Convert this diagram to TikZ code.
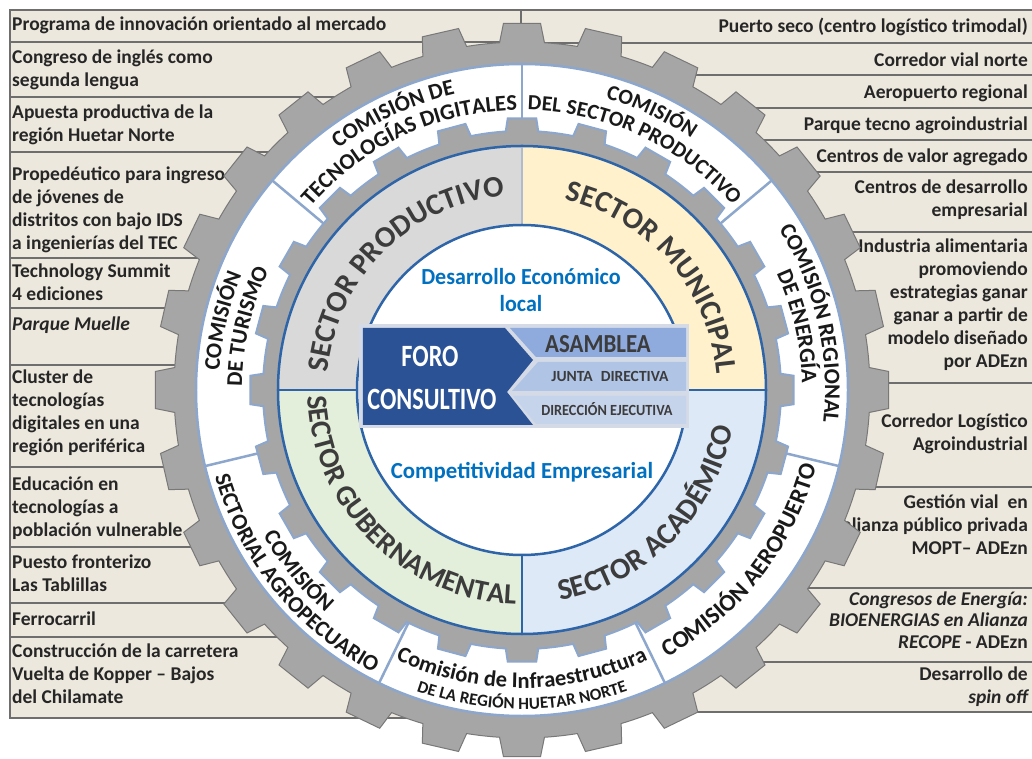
\documentclass[tikz,border=0pt]{standalone}
\usepackage{fontspec}
\usepackage{graphicx}
\setmainfont{Carlito}
\usetikzlibrary{decorations.text}
\definecolor{boxfill}{RGB}{237,232,221}
\definecolor{boxline}{RGB}{110,110,110}
\definecolor{txt}{RGB}{38,38,38}
\definecolor{commtxt}{RGB}{25,25,25}
\definecolor{gearfill}{RGB}{166,166,166}
\definecolor{gearline}{RGB}{120,120,120}
\definecolor{ringline}{RGB}{140,166,204}
\definecolor{darkblue}{RGB}{46,100,168}
\definecolor{lightdiv}{RGB}{176,188,204}
\definecolor{secprod}{RGB}{217,217,217}
\definecolor{secmun}{RGB}{255,241,204}
\definecolor{secgub}{RGB}{227,239,218}
\definecolor{secacad}{RGB}{221,233,247}
\definecolor{bandbg}{RGB}{212,219,230}
\definecolor{foroblue}{RGB}{44,82,150}
\definecolor{asam}{RGB}{143,170,220}
\definecolor{junta}{RGB}{176,196,230}
\definecolor{direc}{RGB}{197,211,235}
\definecolor{centerblue}{RGB}{0,112,192}
\definecolor{sectxt}{RGB}{60,60,60}
\newcommand\bxfont{\bfseries\fontsize{19.5}{23}\selectfont}
\newcommand\cmfont{\bfseries\fontsize{22.5}{22.5}\selectfont\color{commtxt}}
\newcommand\cmfontl{\bfseries\fontsize{24}{24}\selectfont\color{commtxt}}
\newcommand\cmfonts{\bfseries\fontsize{21.5}{21.5}\selectfont\color{commtxt}}
\newcommand\infrafont{\bfseries\fontsize{22.5}{22.5}\selectfont\color{commtxt}}
\newcommand\infrasmall{\bfseries\fontsize{17}{17}\selectfont\color{commtxt}}
\newcommand\secfont{\bfseries\fontsize{30}{30}\selectfont\color{sectxt}}
\newcommand\secfontb{\bfseries\fontsize{29}{29}\selectfont\color{sectxt}}
\newcommand\cwtext[4]{\path[decorate,decoration={text along path,text align=center,text={|#3|#4}}] ({#1+70}:#2pt) arc[start angle={#1+70},end angle={#1-70},radius=#2pt];}
\newcommand\ccwtext[4]{\path[decorate,decoration={text along path,text align=center,text={|#3|#4}}] ({#1-70}:#2pt) arc[start angle={#1-70},end angle={#1+70},radius=#2pt];}
\newcommand\fs{\rule{0pt}{17pt}}
\tikzset{
  boxst/.style={fill=boxfill,draw=boxline,line width=2.5pt},
  ltxt/.style={anchor=north west,align=left,inner sep=0pt,font=\bxfont,text=txt},
  rtxt/.style={anchor=north east,align=right,inner sep=0pt,font=\bxfont,text=txt},
  gearst/.style={fill=gearfill,draw=gearline,line width=1pt},
  innergear/.style={fill=gearfill,draw=ringline,line width=2pt},
  sepline/.style={draw=ringline,line width=2.5pt},
  secline/.style={draw=darkblue,line width=2.5pt},
  ctxt/.style={anchor=base,inner sep=0pt},
}
\begin{document}
\begin{tikzpicture}[x=1pt,y=1pt]
\useasboundingbox (-522,-369) rectangle (510,390);
% left boxes
\draw[boxst] (-512,380) rectangle (-1,348);
\draw[boxst] (-512,348) rectangle (0,293);
\draw[boxst] (-512,293) rectangle (0,238);
\draw[boxst] (-512,238) rectangle (0,132);
\draw[boxst] (-512,132) rectangle (0,82);
\draw[boxst] (-512,82) rectangle (0,25);
\draw[boxst] (-512,25) rectangle (0,-77);
\draw[boxst] (-512,-77) rectangle (0,-157);
\draw[boxst] (-512,-157) rectangle (0,-213);
\draw[boxst] (-512,-213) rectangle (0,-247);
\draw[boxst] (-512,-247) rectangle (0,-328);
% right boxes
\draw[boxst] (-1,380) rectangle (515,347);
\draw[boxst] (0,347) rectangle (515,315);
\draw[boxst] (0,315) rectangle (515,282);
\draw[boxst] (0,282) rectangle (515,250);
\draw[boxst] (0,250) rectangle (515,218);
\draw[boxst] (0,218) rectangle (515,158);
\draw[boxst] (0,158) rectangle (515,7);
\draw[boxst] (0,7) rectangle (515,-97);
\draw[boxst] (0,-97) rectangle (515,-198);
\draw[boxst] (0,-198) rectangle (515,-272);
\draw[boxst] (0,-272) rectangle (515,-322);
% left texts
\node[ltxt] (l1) at (-510,377) {\fs Programa de innovación orientado al mercado};
\node[ltxt] (l2) at (-510,344) {\fs Congreso de inglés como\\segunda lengua};
\node[ltxt] (l3) at (-510,289) {\fs Apuesta productiva de la\\región Huetar Norte};
\node[ltxt] (l4) at (-510,227) {\fs Propedéutico para ingreso\\de jóvenes de\\distritos con bajo IDS\\a ingenierías del TEC};
\node[ltxt] (l5) at (-510,130) {\fs Technology Summit\\4 ediciones};
\node[ltxt] (l6) at (-510,77) {\fs\itshape Parque Muelle};
\node[ltxt] (l7) at (-510,24) {\fs Cluster de\\tecnologías\\digitales en una\\región periférica};
\node[ltxt] (l8) at (-510,-83) {\fs Educación en\\tecnologías a\\población vulnerable};
\node[ltxt] (l9) at (-510,-161) {\fs Puesto fronterizo\\Las Tablillas};
\node[ltxt] (l10) at (-510,-218) {\fs Ferrocarril};
\node[ltxt] (l11) at (-510,-250) {\fs Construcción de la carretera\\Vuelta de Kopper -- Bajos\\del Chilamate};
% right texts
\node[rtxt] (r1) at (506,375) {\fs Puerto seco (centro logístico trimodal)};
\node[rtxt] (r2) at (506,341) {\fs Corredor vial norte};
\node[rtxt] (r3) at (506,309) {\fs Aeropuerto regional};
\node[rtxt] (r4) at (506,277) {\fs Parque tecno agroindustrial};
\node[rtxt] (r5) at (506,245) {\fs Centros de valor agregado};
\node[rtxt] (r6) at (506,214) {\fs Centros de desarrollo\\empresarial};
\node[rtxt] (r7) at (506,155) {\fs Industria alimentaria\\promoviendo\\estrategias ganar\\ganar a partir de\\modelo diseñado\\por ADEzn};
\node[rtxt] (r8) at (506,-20) {\fs Corredor Logístico\\Agroindustrial};
\node[rtxt] (r9) at (506,-101) {\fs Gestión vial\ \ en\\alianza público privada\\MOPT-- ADEzn};
\node[rtxt,font=\bfseries\fontsize{19.5}{21.5}\selectfont] (r10) at (506,-198) {\fs\itshape Congresos de Energía:\\\itshape BIOENERGIAS en Alianza\\\itshape RECOPE\upshape{} - ADEzn};
\node[rtxt] (r11) at (506,-273) {\fs Desarrollo de\\\itshape spin off};
% outer gear (28 teeth)
\filldraw[gearst] (86.3:348pt)
  \foreach \i in {0,...,27}{
    -- ({90+\i*360/28-2.9}:367pt)
    -- ({90+\i*360/28+2.9}:367pt)
    -- ({90+\i*360/28+3.7}:348pt)
    arc[start angle={90+\i*360/28+3.7},end angle={90+(\i+1)*360/28-3.7},radius=348pt]
  } -- cycle;
% white ring
\filldraw[fill=white,draw=ringline,line width=2.5pt] (0,0) circle[radius=326pt];
\foreach \a in {90,40,-13.5,-64,-116,-166.5,140}{
  \draw[sepline] (\a:255pt) -- (\a:326pt);
}
% inner gear (24 teeth)
\filldraw[innergear] (86.4:259pt)
  \foreach \i in {0,...,23}{
    -- ({90+\i*15-3.0}:272pt)
    -- ({90+\i*15+3.0}:272pt)
    -- ({90+\i*15+3.6}:259pt)
    arc[start angle={90+\i*15+3.6},end angle={90+(\i+1)*15-3.6},radius=259pt]
  } -- cycle;
% sectors
\fill[secprod] (0,0) -- (180:244pt) arc[start angle=180,end angle=90,radius=244pt] -- cycle;
\fill[secmun] (0,0) -- (90:244pt) arc[start angle=90,end angle=0,radius=244pt] -- cycle;
\fill[secgub] (0,0) -- (180:244pt) arc[start angle=180,end angle=270,radius=244pt] -- cycle;
\fill[secacad] (0,0) -- (270:244pt) arc[start angle=270,end angle=360,radius=244pt] -- cycle;
\draw[draw=lightdiv,line width=2.5pt] (90:160pt) -- (90:244pt);
\draw[secline] (180:160pt) -- (180:244pt);
\draw[secline] (270:160pt) -- (270:244pt);
\draw[secline] (0:160pt) -- (0:244pt);
\draw[secline] (0,0) circle[radius=244pt];
\filldraw[fill=white,draw=darkblue,line width=2.5pt] (0,0) circle[radius=165pt];
% central band
\fill[bandbg] (-163,66) rectangle (167,-38);
\fill[foroblue] (-159,62) -- (-17,62) -- (11,30) -- (-15,-2) -- (11,-35) -- (-159,-35) -- cycle;
\fill[asam] (-12,62) -- (164,62) -- (164,33) -- (14,33) -- cycle;
\fill[junta] (16,28) -- (164,28) -- (164,-1) -- (-10,-1) -- cycle;
\fill[direc] (-9,-6) -- (164,-6) -- (164,-34) -- (14,-34) -- cycle;
\node[ctxt,text=white,font=\bfseries\fontsize{31}{31}\selectfont] (foro) at (-92,23) {\scalebox{0.78}[1]{FORO}};
\node[ctxt,text=white,font=\bfseries\fontsize{31}{31}\selectfont] (consultivo) at (-90,-20) {\scalebox{0.78}[1]{CONSULTIVO}};
\node[ctxt,text=sectxt,font=\bfseries\fontsize{26}{26}\selectfont] (asamblea) at (76,37) {\scalebox{0.88}[1]{ASAMBLEA}};
\node[ctxt,text=sectxt,font=\bfseries\fontsize{15.5}{15.5}\selectfont] (junta) at (88,8) {JUNTA\hspace{8pt}DIRECTIVA};
\node[ctxt,text=sectxt,font=\bfseries\fontsize{15.5}{15.5}\selectfont] (direccion) at (85,-26) {\scalebox{0.92}[1]{DIRECCIÓN EJECUTIVA}};
\node[ctxt,text=centerblue,font=\bfseries\fontsize{23}{23}\selectfont] (desarrollo) at (-1,105) {\scalebox{0.96}[1]{Desarrollo Económico}};
\node[ctxt,text=centerblue,font=\bfseries\fontsize{23}{23}\selectfont] (local) at (-1,78) {\scalebox{0.96}[1]{local}};
\node[ctxt,text=centerblue,font=\bfseries\fontsize{23}{23}\selectfont] (compet) at (0,-89) {\scalebox{0.99}[1]{Competitividad Empresarial}};
% sector texts
\cwtext{135}{195}{\secfont}{SECTOR PRODUCTIVO}
\cwtext{41}{195}{\secfont}{SECTOR MUNICIPAL}
\ccwtext{225}{214}{\secfontb}{SECTOR GUBERNAMENTAL}
\ccwtext{315}{214}{\secfont}{SECTOR ACADÉMICO}
% commission texts
\cwtext{115}{303}{\cmfont}{COMISIÓN DE}
\cwtext{115}{280}{\cmfont}{TECNOLOGÍAS DIGITALES}
\cwtext{65}{303}{\cmfonts}{COMISIÓN}
\cwtext{65}{280}{\cmfonts}{DEL SECTOR PRODUCTIVO}
\cwtext{13}{303}{\cmfont}{COMISIÓN REGIONAL}
\cwtext{13}{280}{\cmfont}{DE ENERGÍA}
\cwtext{167}{303}{\cmfont}{COMISIÓN}
\cwtext{167}{280}{\cmfont}{DE TURISMO}
\ccwtext{-38}{304}{\cmfontl}{COMISIÓN AEROPUERTO}
\ccwtext{270}{298}{\infrafont}{Comisión de Infraestructura}
\ccwtext{270}{319}{\infrasmall}{DE LA REGIÓN HUETAR NORTE}
\ccwtext{219}{297}{\cmfont}{COMISIÓN}
\ccwtext{219}{319}{\cmfont}{SECTORIAL AGROPECUARIO}
\end{tikzpicture}
\end{document}
